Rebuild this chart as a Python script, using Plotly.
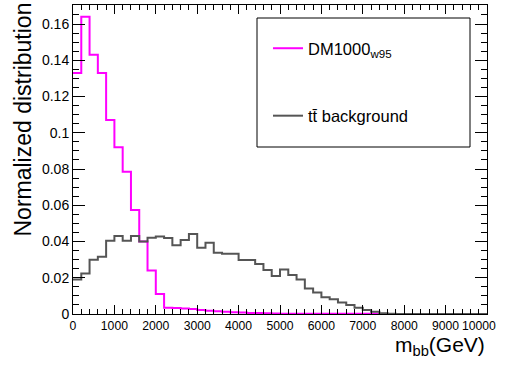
import numpy as np
import plotly.graph_objects as go

# ---------------- data ----------------
bin_width = 200
bin_edges = list(range(0, 10001, bin_width))  # 50 bins, 0..10000 GeV

signal_dm1000 = [
    0.133, 0.164, 0.143, 0.133, 0.107, 0.092, 0.0785, 0.0574, 0.040, 0.024,
    0.011, 0.0035, 0.0033, 0.0030, 0.0027, 0.0022, 0.0018, 0.0015, 0.0012, 0.0010,
    0.0008, 0.0006, 0.0005, 0.0004, 0.0003, 0.0002, 0.0002, 0.0001, 0.0001, 0.0001,
    0.0001, 0.0001, 0.0001, 0.0001, 0.0001, 0.0001, 0.0001, 0.0, 0.0, 0.0,
    0.0, 0.0, 0.0, 0.0, 0.0, 0.0, 0.0, 0.0, 0.0, 0.0,
]

ttbar_background = [
    0.019, 0.0224, 0.030, 0.0316, 0.0404, 0.043, 0.0404, 0.043, 0.040, 0.0421,
    0.0427, 0.042, 0.0379, 0.0408, 0.0441, 0.0366, 0.0393, 0.0338, 0.0333, 0.0333,
    0.0298, 0.0298, 0.0276, 0.0243, 0.0209, 0.0246, 0.0215, 0.0191, 0.0141, 0.0118,
    0.0092, 0.0081, 0.0064, 0.0050, 0.0035, 0.0022, 0.0013, 0.0004, 0.0002, 0.0,
    0.0, 0.0, 0.0, 0.0, 0.0, 0.0, 0.0, 0.0, 0.0, 0.0,
]

x_tick_vals = [0, 1000, 2000, 3000, 4000, 5000, 6000, 7000, 8000, 9000, 10000]
x_tick_text = ["0", "1000", "2000", "3000", "4000", "5000", "6000", "7000", "8000", "9000", ""]
last_x_label = "10000"

series_names = ["DM1000<sub>w95</sub>", "tt\u0304 background"]
series_colors = ["#ff00ff", "#555555"]

FONT = "Liberation Sans, Arial, Helvetica, sans-serif"


def step_y(vals):
    return list(vals) + [vals[-1]]


fig = go.Figure()
for name, vals, col in zip(series_names, [signal_dm1000, ttbar_background], series_colors):
    fig.add_trace(go.Scatter(
        x=bin_edges, y=step_y(vals), mode="lines", name=name,
        line=dict(color=col, width=2, shape="hv"),
        legendgroup=name,
    ))

# plot area in pixels: x 73..487, y 5..314
W, H = 510, 372
L, R, T, B = 73, 23, 5, 58
pw, ph = W - L - R, H - T - B


def px_x(p):
    return (p - L) / pw


def px_y(p):
    return (H - B - p) / ph


fig.update_layout(
    width=W, height=H,
    margin=dict(l=L, r=R, t=T, b=B, pad=0),
    paper_bgcolor="white", plot_bgcolor="white",
    font=dict(family=FONT, color="black", size=12.5),
    showlegend=True,
    legend=dict(
        x=px_x(268), y=px_y(31), xanchor="left", yanchor="top",
        bgcolor="rgba(0,0,0,0)", borderwidth=0,
        font=dict(size=16.5, family=FONT),
        tracegroupgap=43,
    ),
    xaxis=dict(
        range=[0, 10000], showgrid=False, zeroline=False,
        showline=True, linecolor="black", linewidth=1, mirror="ticks",
        ticks="inside", ticklen=9, tickwidth=1, tickcolor="black",
        tickvals=x_tick_vals, ticktext=x_tick_text,
        tickfont=dict(size=12.2),
        minor=dict(dtick=200, ticks="inside", ticklen=4.6, tickcolor="black", showgrid=False),
    ),
    yaxis=dict(
        range=[0, 0.1705], showgrid=False, zeroline=False,
        showline=True, linecolor="black", linewidth=1, mirror="ticks",
        ticks="inside", ticklen=12, tickwidth=1, tickcolor="black",
        dtick=0.02, tick0=0,
        tickfont=dict(size=14),
        minor=dict(dtick=0.005, ticks="inside", ticklen=6, tickcolor="black", showgrid=False),
    ),
    shapes=[dict(
        type="rect", xref="paper", yref="paper",
        x0=px_x(257), x1=px_x(470), y0=px_y(147), y1=px_y(18),
        line=dict(color="black", width=1), fillcolor="rgba(0,0,0,0)",
    )],
    annotations=[
        dict(text=last_x_label, x=px_x(460), xref="paper", y=0, yref="paper",
             xanchor="left", yanchor="top", yshift=-3, showarrow=False,
             font=dict(size=12.2)),
        dict(text="m<sub>bb</sub>(GeV)", x=1, xref="paper", y=px_y(346), yref="paper",
             xanchor="right", yanchor="middle", showarrow=False,
             font=dict(size=21)),
        dict(text="Normalized distribution", x=px_x(22), xref="paper", y=px_y(0.5), yref="paper",
             xanchor="center", yanchor="top", textangle=-90, showarrow=False,
             font=dict(size=23)),
    ],
)

fig.write_html("out.html")
